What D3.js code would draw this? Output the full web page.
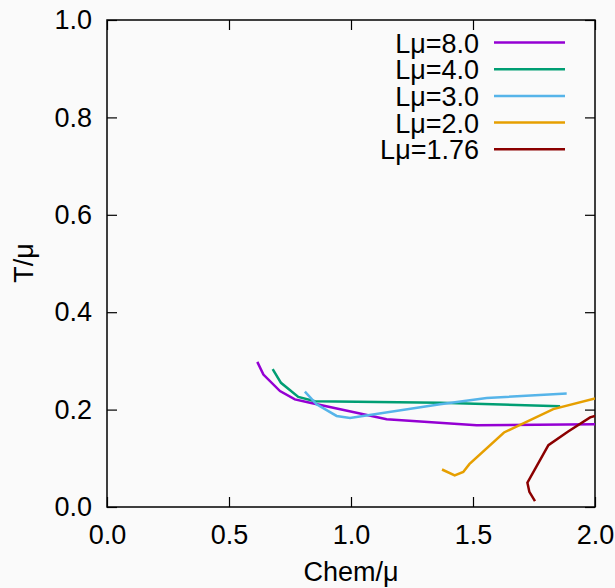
<!DOCTYPE html>
<html><head><meta charset="utf-8">
<script src="https://cdn.jsdelivr.net/npm/d3@7"></script>
<style>body{margin:0;background:#fafafa}svg{display:block}text{font-family:"Liberation Sans",Arial,sans-serif;fill:#000}</style>
</head><body><svg id="c" width="615" height="588"></svg>
<script>
const xTicks = [0, 0.5, 1.0, 1.5, 2.0];
const yTicks = [0, 0.2, 0.4, 0.6, 0.8, 1.0];
const labels = ["Lμ=8.0", "Lμ=4.0", "Lμ=3.0", "Lμ=2.0", "Lμ=1.76"];
const colors = ["#9400d3", "#009e73", "#56b4e9", "#e69f00", "#8b0000"];
const s80x = [0.616, 0.641, 0.709, 0.770, 0.832, 1.146, 1.515, 2.0];
const s80y = [0.298, 0.272, 0.238, 0.221, 0.214, 0.180, 0.168, 0.170];
const s40x = [0.679, 0.713, 0.784, 0.852, 1.365, 1.857];
const s40y = [0.283, 0.255, 0.226, 0.217, 0.214, 0.207];
const s30x = [0.811, 0.859, 0.941, 0.996, 1.365, 1.556, 1.884];
const s30y = [0.237, 0.211, 0.187, 0.183, 0.211, 0.224, 0.233];
const s20x = [1.373, 1.425, 1.460, 1.485, 1.627, 1.829, 2.0];
const s20y = [0.077, 0.065, 0.072, 0.088, 0.153, 0.201, 0.223];
const s176x = [1.754, 1.731, 1.723, 1.809, 1.890, 1.980, 2.0];
const s176y = [0.012, 0.031, 0.050, 0.127, 0.155, 0.184, 0.187];
const seriesX = [s80x, s40x, s30x, s20x, s176x];
const seriesY = [s80y, s40y, s30y, s20y, s176y];

const L = 107, R = 595, T = 20, B = 507;
const svg = d3.select("#c");
const x = d3.scaleLinear().domain([0, 2]).range([L, R]);
const y = d3.scaleLinear().domain([0, 1]).range([B, T]);

svg.append("defs").append("clipPath").attr("id","clip").append("rect")
  .attr("x", L).attr("y", T).attr("width", R-L).attr("height", B-T);

const fs = "27px";
const ff = '"Liberation Sans",Arial,sans-serif';
const ax = svg.append("g").attr("transform", `translate(0,${B})`)
  .call(d3.axisBottom(x).tickValues(xTicks).tickFormat(d3.format(".1f")).tickSizeInner(-10).tickSizeOuter(0).tickPadding(18));
const ay = svg.append("g").attr("transform", `translate(${L},0)`)
  .call(d3.axisLeft(y).tickValues(yTicks).tickFormat(d3.format(".1f")).tickSizeInner(-10).tickSizeOuter(0).tickPadding(15));
const axT = svg.append("g").attr("transform", `translate(0,${T})`)
  .call(d3.axisTop(x).tickValues(xTicks).tickFormat("").tickSizeInner(-10).tickSizeOuter(0));
const ayR = svg.append("g").attr("transform", `translate(${R},0)`)
  .call(d3.axisRight(y).tickValues(yTicks).tickFormat("").tickSizeInner(-10).tickSizeOuter(0));
[ax, ay, axT, ayR].forEach(g => {
  g.select(".domain").remove();
  g.selectAll("line").attr("stroke", "#000").attr("stroke-width", 1.2);
  g.selectAll("text").style("font-size", fs).style("font-family", ff).attr("fill", "#000");
});
svg.append("rect").attr("x", L).attr("y", T).attr("width", R-L).attr("height", B-T)
  .attr("fill", "none").attr("stroke", "#000").attr("stroke-width", 1.5);

const line = d3.line().x(d => x(d[0])).y(d => y(d[1]));
const g = svg.append("g").attr("clip-path", "url(#clip)");
seriesX.forEach((xs, i) => {
  const pts = xs.map((v, j) => [v, seriesY[i][j]]);
  g.append("path").attr("d", line(pts)).attr("fill", "none")
    .attr("stroke", colors[i]).attr("stroke-width", 2.5).attr("stroke-linejoin", "miter");
});

labels.forEach((lab, i) => {
  const yy = 42.5 + i * 26.7;
  svg.append("text").attr("x", 479).attr("y", yy + 10)
    .attr("text-anchor", "end").style("font-size", fs).text(lab);
  svg.append("line").attr("x1", 494).attr("x2", 565).attr("y1", yy).attr("y2", yy)
    .attr("stroke", colors[i]).attr("stroke-width", 2.5);
});

svg.append("text").attr("x", 351).attr("y", 581).attr("text-anchor", "middle").style("font-size", fs).text("Chem/μ");
svg.append("text").attr("transform", "translate(33,263) rotate(-90)").attr("text-anchor", "middle").style("font-size", fs).text("T/μ");
</script></body></html>
